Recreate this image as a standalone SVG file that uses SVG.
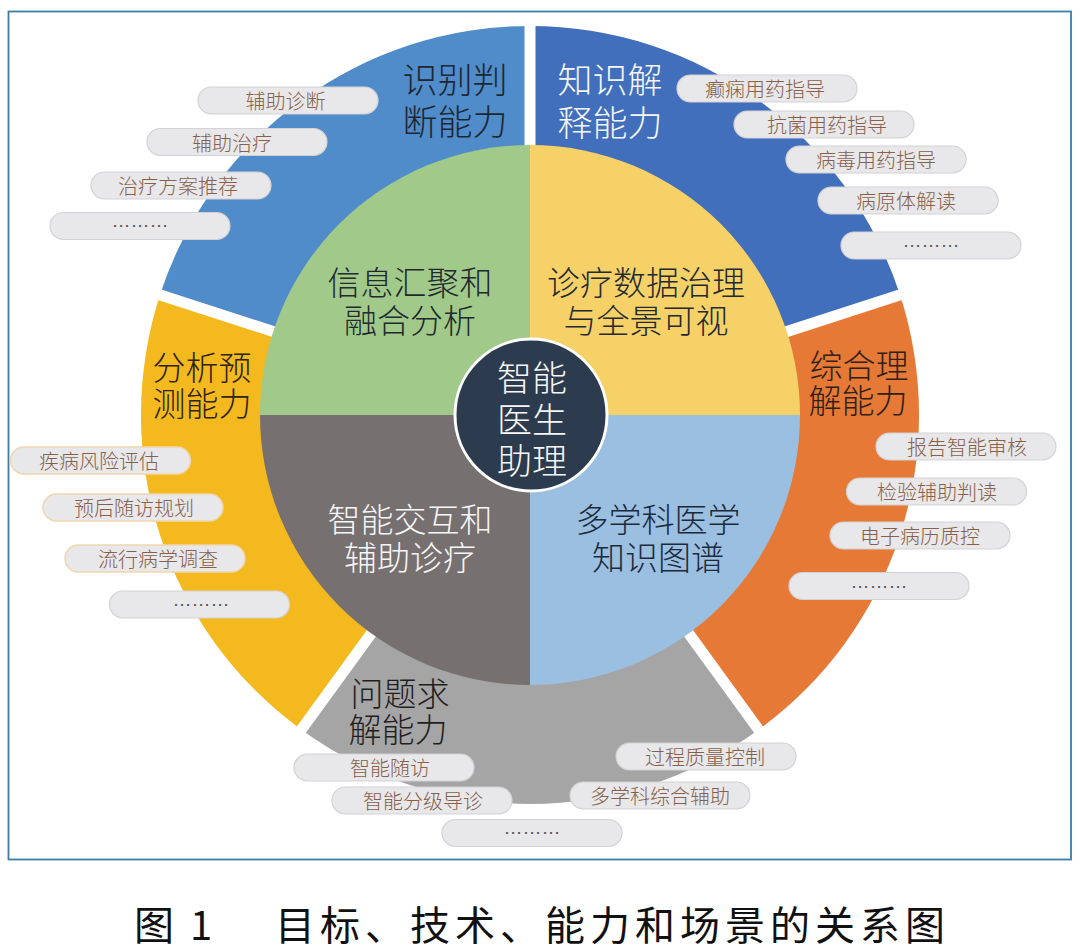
<svg xmlns="http://www.w3.org/2000/svg" width="1080" height="951" viewBox="0 0 1080 951">
<style>
.ring{font-family:"Noto Sans CJK SC",sans-serif;font-weight:300;font-size:34px;text-anchor:middle;dominant-baseline:central;}
.inner{font-family:"Noto Sans CJK SC",sans-serif;font-weight:300;font-size:33px;text-anchor:middle;dominant-baseline:central;}
.pill{fill:#e8e7e9;stroke:#d3d2d6;stroke-width:1.2;}
.pillb{fill:#e8e7e9;stroke:#efd6ad;stroke-width:1.5;}
.pt{font-family:"Noto Sans CJK SC",sans-serif;font-weight:300;font-size:20px;fill:#86604a;text-anchor:middle;dominant-baseline:central;}
.dots{font-family:"Liberation Sans",sans-serif;font-size:19px;fill:#555;text-anchor:middle;}
.gap{stroke:#ffffff;stroke-width:11;}
.dark{fill:#222a30;}
.light{fill:#f6f6f6;}
</style>
<rect x="0" y="0" width="1080" height="951" fill="#ffffff"/>
<rect id="frame" x="8.5" y="11.5" width="1062.5" height="848" fill="none" stroke="#3c7ea6" stroke-width="1.8"/>

<g id="outer-ring">
  <g id="ring-recognition">
    <path d="M530,415 L530,26 A389,389 0 0 0 160,294.8 Z" fill="#4f8cc9"/>
  </g>
  <g id="ring-knowledge">
    <path d="M530,415 L530,26 A389,389 0 0 1 900,294.8 Z" fill="#416fbc"/>
  </g>
  <g id="ring-understanding">
    <path d="M530,415 L900,294.8 A389,389 0 0 1 758.6,729.7 Z" fill="#e57935"/>
  </g>
  <g id="ring-solving">
    <path d="M530,415 L758.6,729.7 A389,389 0 0 1 301.4,729.7 Z" fill="#a5a5a5"/>
  </g>
  <g id="ring-prediction">
    <path d="M530,415 L301.4,729.7 A389,389 0 0 1 160,294.8 Z" fill="#f4b91f"/>
  </g>
  <g id="ring-gaps">
    <line class="gap" x1="530" y1="415" x2="530" y2="15"/>
    <line class="gap" x1="530" y1="415" x2="910.4" y2="291.4"/>
    <line class="gap" x1="530" y1="415" x2="765.1" y2="738.6"/>
    <line class="gap" x1="530" y1="415" x2="294.9" y2="738.6"/>
    <line class="gap" x1="530" y1="415" x2="149.6" y2="291.4"/>
  </g>
</g>

<g id="inner-quadrants">
  <g id="q-fusion">
    <path d="M530,415 L530,145 A270,270 0 0 0 260,415 Z" fill="#a1c98a"/>
  </g>
  <g id="q-data">
    <path d="M530,415 L530,145 A270,270 0 0 1 800,415 Z" fill="#f6d168"/>
  </g>
  <g id="q-graph">
    <path d="M530,415 L800,415 A270,270 0 0 1 530,685 Z" fill="#9bbfe0"/>
  </g>
  <g id="q-interaction">
    <path d="M530,415 L530,685 A270,270 0 0 1 260,415 Z" fill="#767070"/>
  </g>
</g>

<g id="center">
  <circle cx="531" cy="415" r="76" fill="#2c3c4e" stroke="#ffffff" stroke-width="3"/>
  <text class="inner light" style="font-size:35px"><tspan x="532" y="375">智能</tspan><tspan x="532" y="417">医生</tspan><tspan x="532" y="458">助理</tspan></text>
</g>

<g id="inner-labels">
  <text id="label-fusion" class="inner dark"><tspan x="410" y="281">信息汇聚和</tspan><tspan x="410" y="319">融合分析</tspan></text>
  <text id="label-data" class="inner dark"><tspan x="646" y="281">诊疗数据治理</tspan><tspan x="646" y="319">与全景可视</tspan></text>
  <text id="label-interaction" class="inner light"><tspan x="410" y="518">智能交互和</tspan><tspan x="410" y="556">辅助诊疗</tspan></text>
  <text id="label-graph" class="inner" fill="#1c2a3c"><tspan x="658" y="518">多学科医学</tspan><tspan x="658" y="556">知识图谱</tspan></text>
</g>

<g id="ring-labels">
  <text id="label-recognition" class="ring" fill="#1d2733" style="font-size:35px"><tspan x="455" y="77">识别判</tspan><tspan x="455" y="119">断能力</tspan></text>
  <text id="label-knowledge" class="ring light" style="font-size:35px"><tspan x="610" y="77">知识解</tspan><tspan x="610" y="120">释能力</tspan></text>
  <text id="label-understanding" class="ring" fill="#2e2118" style="font-size:33px"><tspan x="859" y="364">综合理</tspan><tspan x="858" y="399">解能力</tspan></text>
  <text id="label-solving" class="ring" fill="#1f1f1f" style="font-size:33px"><tspan x="400" y="692">问题求</tspan><tspan x="398" y="728">解能力</tspan></text>
  <text id="label-prediction" class="ring" fill="#2e2410" style="font-size:33px"><tspan x="202" y="366">分析预</tspan><tspan x="202" y="402">测能力</tspan></text>
</g>

<g id="scenarios">
  <g id="s-1"><rect class="pill" x="198" y="87" width="180" height="27" rx="13.5"/><text class="pt" x="285.5" y="100.5">辅助诊断</text></g>
  <g id="s-2"><rect class="pill" x="147" y="128.5" width="180" height="27" rx="13.5"/><text class="pt" x="232" y="142">辅助治疗</text></g>
  <g id="s-3"><rect class="pill" x="91" y="172" width="180" height="27" rx="13.5"/><text class="pt" x="178" y="185.5">治疗方案推荐</text></g>
  <g id="s-4"><rect class="pill" x="50" y="212.5" width="180" height="27" rx="13.5"/><text class="dots" x="140" y="227">………</text></g>

  <g id="s-5"><rect class="pill" x="677" y="75" width="180" height="27" rx="13.5"/><text class="pt" x="765" y="88.5">癫痫用药指导</text></g>
  <g id="s-6"><rect class="pill" x="734" y="111" width="180" height="27" rx="13.5"/><text class="pt" x="827" y="124.5">抗菌用药指导</text></g>
  <g id="s-7"><rect class="pill" x="786" y="146" width="180" height="27" rx="13.5"/><text class="pt" x="876" y="159.5">病毒用药指导</text></g>
  <g id="s-8"><rect class="pill" x="818" y="187" width="180" height="27" rx="13.5"/><text class="pt" x="906" y="200.5">病原体解读</text></g>
  <g id="s-9"><rect class="pill" x="841" y="232" width="180" height="27" rx="13.5"/><text class="dots" x="931" y="247">………</text></g>

  <g id="s-10"><rect class="pillb" x="10.5" y="447" width="180" height="27" rx="13.5"/><text class="pt" x="99" y="460.5">疾病风险评估</text></g>
  <g id="s-11"><rect class="pillb" x="43" y="494" width="180" height="27" rx="13.5"/><text class="pt" x="134" y="507.5">预后随访规划</text></g>
  <g id="s-12"><rect class="pillb" x="65" y="545" width="180" height="27" rx="13.5"/><text class="pt" x="158" y="558.5">流行病学调查</text></g>
  <g id="s-13"><rect class="pill" x="109.5" y="591" width="180" height="27" rx="13.5"/><text class="dots" x="201" y="606">………</text></g>

  <g id="s-14"><rect class="pill" x="876" y="433" width="180" height="27" rx="13.5"/><text class="pt" x="967" y="446.5">报告智能审核</text></g>
  <g id="s-15"><rect class="pill" x="846.5" y="478" width="180" height="27" rx="13.5"/><text class="pt" x="937" y="491.5">检验辅助判读</text></g>
  <g id="s-16"><rect class="pill" x="830" y="522" width="180" height="27" rx="13.5"/><text class="pt" x="920" y="535.5">电子病历质控</text></g>
  <g id="s-17"><rect class="pill" x="789" y="572.5" width="180" height="27" rx="13.5"/><text class="dots" x="879" y="587.5">………</text></g>

  <g id="s-18"><rect class="pill" x="294" y="754" width="180" height="27" rx="13.5"/><text class="pt" x="390" y="767.5">智能随访</text></g>
  <g id="s-19"><rect class="pill" x="332" y="787" width="180" height="27" rx="13.5"/><text class="pt" x="423" y="800.5">智能分级导诊</text></g>
  <g id="s-20"><rect class="pill" x="442" y="819.5" width="180" height="27" rx="13.5"/><text class="dots" x="532" y="834">………</text></g>
  <g id="s-21"><rect class="pill" x="616" y="743" width="180" height="27" rx="13.5"/><text class="pt" x="705" y="756.5">过程质量控制</text></g>
  <g id="s-22"><rect class="pill" x="570" y="782" width="180" height="27" rx="13.5"/><text class="pt" x="660" y="795.5">多学科综合辅助</text></g>
</g>

<g id="caption" fill="#111111">
  <text x="134" y="923" font-family="'Noto Sans CJK SC',sans-serif" font-size="40" dominant-baseline="central">图</text>
  <text x="201" y="923" font-family="'Noto Sans CJK SC',sans-serif" font-size="40" text-anchor="middle" dominant-baseline="central">1</text>
  <text x="275" y="923" font-family="'Noto Sans CJK SC',sans-serif" font-size="40" dominant-baseline="central" textLength="670" lengthAdjust="spacing">目标、技术、能力和场景的关系图</text>
</g>
</svg>
